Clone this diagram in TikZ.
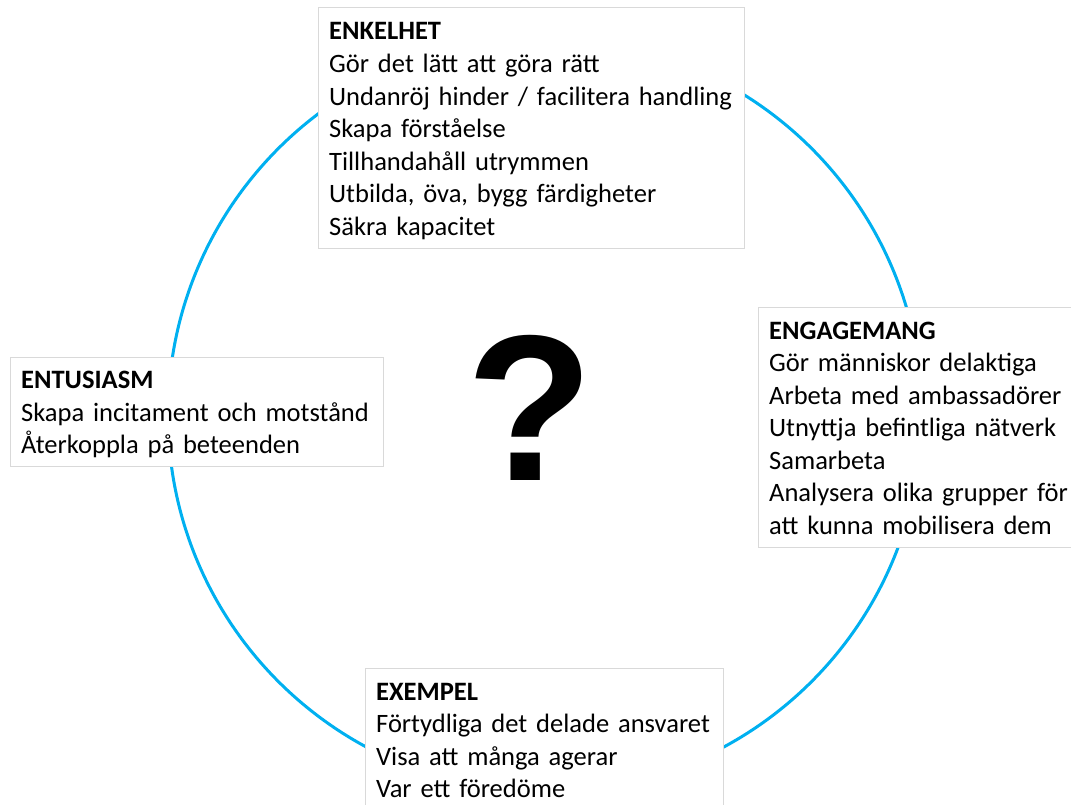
\documentclass[tikz,border=0pt]{standalone}
\usepackage{fontspec}
\setmainfont{Carlito}
\newfontfamily\markfont{Liberation Sans}

\definecolor{ringblue}{HTML}{00B0F0}
\definecolor{boxgray}{HTML}{D9D9D9}

\begin{document}
\begin{tikzpicture}[
        x=0.75pt, y=-0.75pt,
        card/.style={draw=boxgray, line width=0.75pt, fill=white, anchor=north west, align=left, inner xsep=8pt,
            font=\fontsize{19.9pt}{24.4pt}\selectfont,
            execute at begin node=\rule{0pt}{19pt}, execute at end node=\rule[-5pt]{0pt}{0pt}},
        ring/.style={draw=ringblue, line width=2.25pt},
        qmark/.style={inner sep=0pt, font=\markfont\bfseries\fontsize{156pt}{156pt}\selectfont}
    ]
        \useasboundingbox (0,0) rectangle (1071,805);
        \clip (0,0) rectangle (1071,805);

        % the cycle behind the four boxes
        \draw[ring] (545,415) circle[radius=282.75pt];

        \node[qmark] (question) at (530,408) {?};

        \node[card, text width=303.5pt, minimum height=180.4pt] (enkelhet) at (318,7.5) {\textbf{ENKELHET}\\Gör det lätt att göra rätt\\Undanröj hinder / facilitera handling\\Skapa förståelse\\Tillhandahåll utrymmen\\Utbilda, öva, bygg färdigheter\\Säkra kapacitet};
        \node[card, text width=240pt, minimum height=180pt] (engagemang) at (758,307) {\textbf{ENGAGEMANG}\\Gör människor delaktiga\\Arbeta med ambassadörer\\Utnyttja befintliga nätverk\\Samarbeta\\Analysera olika grupper för\\att kunna mobilisera dem};
        \node[card, text width=252.5pt, minimum height=106.5pt] (exempel) at (365,668) {\textbf{EXEMPEL}\\Förtydliga det delade ansvaret\\Visa att många agerar\\Var ett föredöme};
        \node[card, text width=263.75pt, minimum height=81.75pt] (entusiasm) at (10,357) {\textbf{ENTUSIASM}\\Skapa incitament och motstånd\\Återkoppla på beteenden};
    \end{tikzpicture}
\end{document}
